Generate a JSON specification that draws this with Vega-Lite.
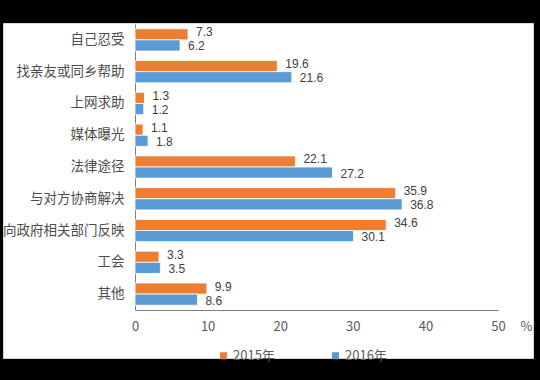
{
  "$schema": "https://vega.github.io/schema/vega-lite/v6.json",
  "width": 530,
  "height": 335,
  "autosize": {"type": "none"},
  "padding": {"left": 3, "top": 23, "right": 7, "bottom": 22},
  "background": "#000000",
  "config": {
    "view": {"fill": "#ffffff", "stroke": "#d9d9d9"},
    "font": "Noto Sans CJK SC",
    "axis": {"labelFont": "Noto Sans CJK SC", "titleFont": "Noto Sans CJK SC"},
    "legend": {"labelFont": "Noto Sans CJK SC"}
  },
  "data": {
    "values": [
      {"category": "自己忍受", "year": "2015年", "value": 7.3},
      {"category": "自己忍受", "year": "2016年", "value": 6.2},
      {"category": "找亲友或同乡帮助", "year": "2015年", "value": 19.6},
      {"category": "找亲友或同乡帮助", "year": "2016年", "value": 21.6},
      {"category": "上网求助", "year": "2015年", "value": 1.3},
      {"category": "上网求助", "year": "2016年", "value": 1.2},
      {"category": "媒体曝光", "year": "2015年", "value": 1.1},
      {"category": "媒体曝光", "year": "2016年", "value": 1.8},
      {"category": "法律途径", "year": "2015年", "value": 22.1},
      {"category": "法律途径", "year": "2016年", "value": 27.2},
      {"category": "与对方协商解决", "year": "2015年", "value": 35.9},
      {"category": "与对方协商解决", "year": "2016年", "value": 36.8},
      {"category": "向政府相关部门反映", "year": "2015年", "value": 34.6},
      {"category": "向政府相关部门反映", "year": "2016年", "value": 30.1},
      {"category": "工会", "year": "2015年", "value": 3.3},
      {"category": "工会", "year": "2016年", "value": 3.5},
      {"category": "其他", "year": "2015年", "value": 9.9},
      {"category": "其他", "year": "2016年", "value": 8.6}
    ]
  },
  "encoding": {
    "y": {
      "field": "category",
      "type": "nominal",
      "sort": null,
      "scale": {"range": [1, 287], "paddingInner": 0.3, "paddingOuter": 0.15},
      "axis": {
        "title": null,
        "offset": -132,
        "ticks": false,
        "domainColor": "#7f7f7f",
        "labelColor": "#4d4d4d",
        "labelFontSize": 13.5,
        "labelPadding": 11
      }
    },
    "yOffset": {"field": "year", "type": "nominal", "scale": {"paddingInner": 0, "paddingOuter": 0}},
    "x": {
      "field": "value",
      "type": "quantitative",
      "scale": {"domain": [0, 50], "range": [132, 495], "nice": false},
      "axis": {
        "title": "%",
        "offset": -48,
        "grid": false,
        "ticks": false,
        "values": [0, 10, 20, 30, 40, 50],
        "labelOverlap": false,
        "labelFlush": false,
        "labelBound": false,
        "domainColor": "#7f7f7f",
        "labelColor": "#595959",
        "labelFontSize": 13,
        "labelPadding": 10,
        "titleColor": "#595959",
        "titleFontSize": 13,
        "titleFontWeight": "normal",
        "titleX": 523,
        "titleY": 16,
        "titleAlign": "center",
        "titleBaseline": "middle"
      }
    }
  },
  "layer": [
    {
      "mark": {"type": "bar", "stroke": "#ffffff", "strokeWidth": 0.8},
      "encoding": {
        "color": {
          "field": "year",
          "type": "nominal",
          "scale": {"domain": ["2015年", "2016年"], "range": ["#ED7D31", "#5B9BD5"]},
          "legend": {
            "title": null,
            "orient": "none",
            "direction": "horizontal",
            "legendX": 214,
            "legendY": 326,
            "symbolType": "square",
            "symbolSize": 50,
            "symbolStrokeWidth": 0,
            "labelFontSize": 13,
            "labelColor": "#595959",
            "labelOffset": 3,
            "columnPadding": 54,
            "padding": 0
          }
        }
      }
    },
    {
      "transform": [{"filter": "datum.year === '2015年'"}],
      "mark": {"type": "text", "align": "left", "baseline": "middle", "dx": 8, "dy": -2, "fontSize": 12, "color": "#404040", "font": "Liberation Sans"},
      "encoding": {"text": {"field": "value", "type": "quantitative", "format": ".1f"}}
    },
    {
      "transform": [{"filter": "datum.year === '2016年'"}],
      "mark": {"type": "text", "align": "left", "baseline": "middle", "dx": 8, "dy": 1, "fontSize": 12, "color": "#404040", "font": "Liberation Sans"},
      "encoding": {"text": {"field": "value", "type": "quantitative", "format": ".1f"}}
    }
  ]
}
